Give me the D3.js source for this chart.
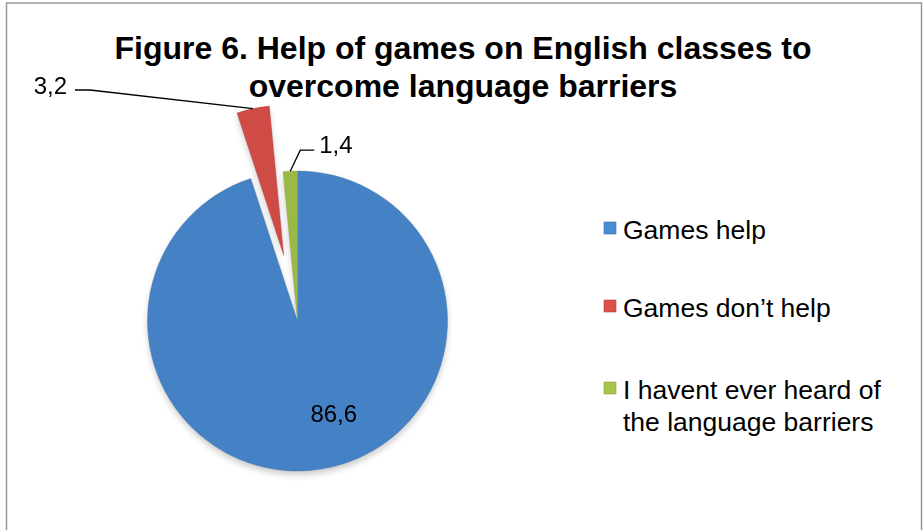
<!DOCTYPE html>
<head>
  <meta charset="utf-8">
  <script src="https://cdn.jsdelivr.net/npm/d3@7"></script>
  <style>
    body { margin: 0; background: #fff; }
    .title { font: bold 32px "Liberation Sans", Arial, sans-serif; fill: #000; }
    .legend text { font: 26.5px "Liberation Sans", Arial, sans-serif; fill: #000; }
    .label { font: 24px "Liberation Sans", Arial, sans-serif; fill: #000; }
    .leader { fill: none; stroke: #000; stroke-width: 1.3; }
  </style>
</head>
<body>
<script>
  // data
  var categories = ["Games help", "Games don\u2019t help", "I havent ever heard of the language barriers"];
  var values = [86.6, 3.2, 1.4];
  var valueLabels = ["86,6", "3,2", "1,4"];
  var legendLines = [["Games help"], ["Games don\u2019t help"], ["I havent ever heard of", "the language barriers"]];
  var colors = ["#4a8cd4", "#dd514b", "#a7c74b"];
  var explode = [0, 67, 0];

  var width = 923, height = 530;
  var cx = 297.5, cy = 321, r = 150;

  var svg = d3.select("body").append("svg")
    .attr("width", width)
    .attr("height", height);

  // chart border
  svg.append("rect")
    .attr("x", 6.5).attr("y", 3)
    .attr("width", 915).attr("height", 540)
    .attr("fill", "#fff")
    .attr("stroke", "#999").attr("stroke-width", 1.5);

  // gradients, a bit lighter on top, slightly darker at the rim
  var defs = svg.append("defs");
  colors.forEach(function(c, i) {
    var g = defs.append("radialGradient")
      .attr("id", "grad" + i)
      .attr("gradientUnits", "userSpaceOnUse")
      .attr("cx", cx).attr("cy", cy - 50).attr("r", r * 1.4);
    g.append("stop").attr("offset", "0%").attr("stop-color", d3.color(c).brighter(0.1));
    g.append("stop").attr("offset", "85%").attr("stop-color", c);
    g.append("stop").attr("offset", "100%").attr("stop-color", d3.color(c).darker(0.2));
  });
  defs.append("filter").attr("id", "blur")
    .attr("color-interpolation-filters", "sRGB")
    .attr("x", "-20%").attr("y", "-20%").attr("width", "140%").attr("height", "140%")
    .append("feGaussianBlur").attr("stdDeviation", 3);

  // title
  var title = svg.append("text").attr("class", "title")
    .attr("text-anchor", "middle");
  title.append("tspan").attr("x", 463).attr("y", 59).text("Figure 6. Help of games on English classes to");
  title.append("tspan").attr("x", 463).attr("y", 97).text("overcome language barriers");

  // pie
  var pie = d3.pie().sort(null).value(function(d) { return d; });
  var arcs = pie(values);
  var arc = d3.arc().innerRadius(0).outerRadius(r);

  function offset(d, i) {
    var a = (d.startAngle + d.endAngle) / 2;
    return [cx + explode[i] * Math.sin(a), cy - explode[i] * Math.cos(a)];
  }
  function place(d, i) {
    var o = offset(d, i);
    return "translate(" + o[0] + "," + o[1] + ")";
  }

  // soft shadow under the slices
  svg.append("g")
    .attr("filter", "url(#blur)")
    .attr("opacity", 0.2)
    .selectAll("path")
    .data(arcs)
    .enter().append("path")
    .attr("transform", function(d, i) {
      var o = offset(d, i);
      return "translate(" + o[0] + "," + (o[1] + 4) + ")";
    })
    .attr("d", arc)
    .attr("fill", "#000");

  svg.append("g").selectAll("path")
    .data(arcs)
    .enter().append("path")
    .attr("transform", place)
    .attr("d", arc)
    .attr("fill", function(d, i) { return "url(#grad" + i + ")"; })
    .attr("stroke", function(d, i) { return d3.color(colors[i]).darker(0.8); })
    .attr("stroke-width", 0.7)
    .attr("stroke-opacity", 0.5);

  // labels
  function rimPoint(d, i) {
    var a = (d.startAngle + d.endAngle) / 2, o = offset(d, i);
    return [o[0] + r * Math.sin(a), o[1] - r * Math.cos(a)];
  }

  var bc = d3.arc().innerRadius(0).outerRadius(r * 1.26).centroid(arcs[0]);
  svg.append("text").attr("class", "label")
    .attr("x", cx + bc[0] - 2).attr("y", cy + bc[1] + 8)
    .attr("text-anchor", "start")
    .text(valueLabels[0]);

  var p1 = rimPoint(arcs[1], 1);
  svg.append("path").attr("class", "leader")
    .attr("d", d3.line()([p1, [90, 90], [75, 90]]));
  svg.append("text").attr("class", "label")
    .attr("x", 67).attr("y", 94).attr("text-anchor", "end")
    .text(valueLabels[1]);

  var p2 = rimPoint(arcs[2], 2);
  svg.append("path").attr("class", "leader")
    .attr("d", d3.line()([p2, [p2[0] + 10, p2[1] - 21], [p2[0] + 24, p2[1] - 21]]));
  svg.append("text").attr("class", "label")
    .attr("x", p2[0] + 29).attr("y", p2[1] - 18).attr("text-anchor", "start")
    .text(valueLabels[2]);

  // legend
  var legendY = [230, 308, 390];
  var legend = svg.append("g").attr("class", "legend");
  var items = legend.selectAll("g")
    .data(categories)
    .enter().append("g")
    .attr("transform", function(d, i) { return "translate(604," + legendY[i] + ")"; });
  items.append("rect")
    .attr("x", 0).attr("y", -8).attr("width", 12).attr("height", 12)
    .attr("fill", function(d, i) { return colors[i]; })
    .attr("stroke", function(d, i) { return d3.color(colors[i]).darker(0.6); })
    .attr("stroke-width", 0.6);
  items.append("text")
    .attr("x", 19).attr("y", 9)
    .selectAll("tspan")
    .data(function(d, i) { return legendLines[i]; })
    .enter().append("tspan")
    .attr("x", 19)
    .attr("dy", function(d, j) { return j === 0 ? 0 : 32; })
    .text(function(d) { return d; });
</script>
</body>
